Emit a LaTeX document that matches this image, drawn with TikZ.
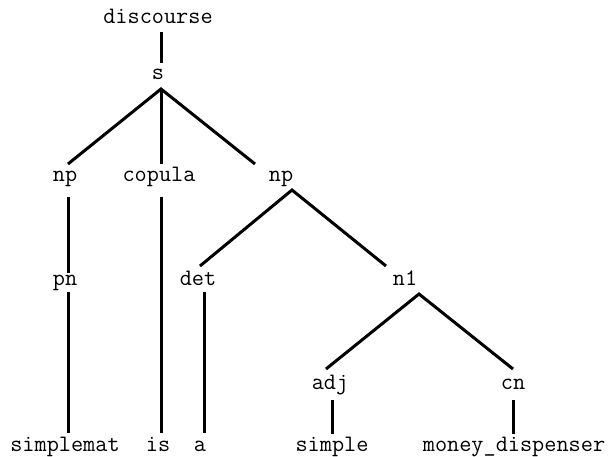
\documentclass[tikz,border=0pt]{standalone}
\usepackage{fontspec}
\begin{document}
\begin{tikzpicture}[x=1pt,y=-1pt,
  lbl/.style={anchor=base,inner sep=0pt,font=\ttfamily\fontsize{23.6}{26}\selectfont},
  edge/.style={line width=3pt,line cap=butt,line join=miter}]
\useasboundingbox (0,0) rectangle (608,457);
% labels
\node[lbl] (disc) at (158,24) {discourse};
\node[lbl] (s) at (158,80) {s};
\node[lbl] (np1) at (65,182) {np};
\node[lbl] (cop) at (159,182) {copula};
\node[lbl] (np2) at (281,182) {np};
\node[lbl] (pn) at (65,285) {pn};
\node[lbl] (det) at (198,285) {det};
\node[lbl] (n1) at (405,285) {n1};
\node[lbl] (adj) at (330,389) {adj};
\node[lbl] (cn) at (513,389) {cn};
\node[lbl] (w1) at (65,451) {simplemat};
\node[lbl] (w2) at (158,451) {is};
\node[lbl] (w3) at (200,451) {a};
\node[lbl] (w4) at (332,451) {simple};
\node[lbl] (w5) at (514,451) {money\_dispenser};
% attach points
\coordinate (disc-b) at (161,32);
\coordinate (s-t) at (161,63);
\coordinate (s-b) at (161,89);
\coordinate (np1-t) at (68,164);
\coordinate (np1-b) at (68,197);
\coordinate (cop-t) at (161,164);
\coordinate (cop-b) at (161,197);
\coordinate (np2-t) at (255,164);
\coordinate (np2-b) at (292,190);
\coordinate (pn-t) at (68,273);
\coordinate (pn-b) at (68,292);
\coordinate (det-t) at (200,266);
\coordinate (det-b) at (204,292);
\coordinate (n1-t) at (386,266);
\coordinate (n1-b) at (419,294);
\coordinate (adj-t) at (326,369);
\coordinate (adj-b) at (332,400);
\coordinate (cn-t) at (513,369);
\coordinate (cn-b) at (513,400);
\coordinate (w1-t) at (68,433);
\coordinate (w2-t) at (161,433);
\coordinate (w3-t) at (204,433);
\coordinate (w4-t) at (332,434);
\coordinate (w5-t) at (513,434);
% edges
\draw[edge] (disc-b) -- (s-t);
\draw[edge] (np1-t) -- (s-b) -- (np2-t);
\draw[edge] (s-b) -- (cop-t);
\draw[edge] (np1-b) -- (pn-t);
\draw[edge] (cop-b) -- (w2-t);
\draw[edge] (det-t) -- (np2-b) -- (n1-t);
\draw[edge] (pn-b) -- (w1-t);
\draw[edge] (det-b) -- (w3-t);
\draw[edge] (adj-t) -- (n1-b) -- (cn-t);
\draw[edge] (adj-b) -- (w4-t);
\draw[edge] (cn-b) -- (w5-t);
\end{tikzpicture}
\end{document}
